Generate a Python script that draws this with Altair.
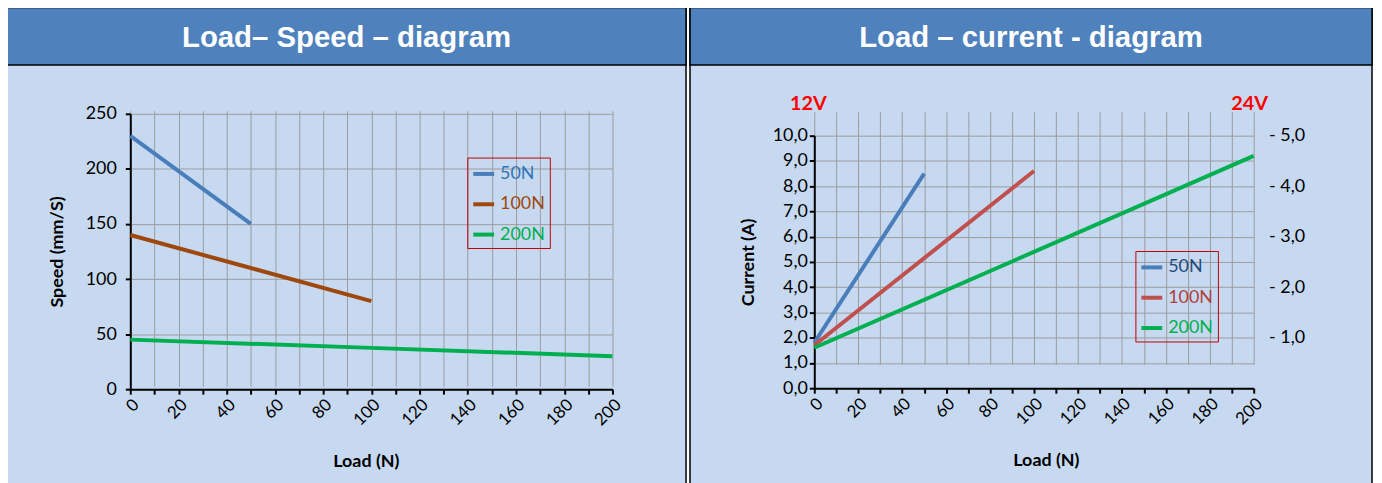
import altair as alt
import pandas as pd

# ---------------- data ----------------
series_names = ["50N", "100N", "200N"]

# Load - Speed diagram
speed_50_load = [0, 50]
speed_50 = [230, 150]
speed_100_load = [0, 50, 100]
speed_100 = [140, 110, 80]
speed_200_load = [0, 100, 200]
speed_200 = [45, 37.5, 30]

# Load - current diagram
current_50_load = [0, 50]
current_50 = [1.8, 8.5]
current_100_load = [0, 100]
current_100 = [1.7, 8.6]
current_200_load = [0, 200]
current_200 = [1.6, 9.2]

load_ticks = list(range(0, 201, 10))
speed_ticks = [0, 50, 100, 150, 200, 250]
current_ticks = list(range(0, 11))
current_24v_ticks = [1, 2, 3, 4, 5]

left_title = "Load\u2013 Speed \u2013 diagram"
right_title = "Load \u2013 current - diagram"

speed_colors = ["#4A7EBB", "#9E480E", "#00B050"]
speed_label_colors = ["#2E75B6", "#9E480E", "#00B050"]
current_colors = ["#4A7EBB", "#C0504D", "#00B050"]
current_label_colors = ["#1F497D", "#B0413E", "#00B050"]


def frame(name, loads, values):
    return pd.DataFrame({"series": name, "load": loads, "value": values})


speed_df = pd.concat([
    frame("50N", speed_50_load, speed_50),
    frame("100N", speed_100_load, speed_100),
    frame("200N", speed_200_load, speed_200),
])
current_df = pd.concat([
    frame("50N", current_50_load, current_50),
    frame("100N", current_100_load, current_100),
    frame("200N", current_200_load, current_200),
])

# ---------------- styling ----------------
W1, W2, H = 683, 686, 488
BG = "#C6D9F1"
BAR = "#4F81BD"
FONT = "Lato"

axis_common = dict(
    domainColor="black", domainWidth=2, tickColor="black", tickWidth=2, tickSize=5,
    gridColor="#9C9C9C", gridWidth=1, labelFont=FONT, labelColor="black",
    titleFont=FONT, titleFontWeight="bold", titleFontSize=18, titleColor="black",
)


def label_color_expr(colors):
    return alt.ExprRef(
        f"datum.value == '{series_names[0]}' ? '{colors[0]}' : "
        f"datum.value == '{series_names[1]}' ? '{colors[1]}' : '{colors[2]}'"
    )


def legend(x, y, colors):
    return alt.Legend(
        orient="none", legendX=x, legendY=y, title=None, strokeColor="#C00000",
        padding=4, symbolType="stroke", symbolStrokeWidth=4, symbolSize=441,
        labelFont=FONT, labelFontSize=18, rowPadding=8.5, labelOffset=4,
        labelColor=label_color_expr(colors),
    )


def header(title, width):
    d = alt.Data(values=[{"t": title}])
    bar = alt.Chart(d).mark_rect(fill=BAR, stroke="black", strokeWidth=1.5).encode(
        x=alt.value(0), x2=alt.value(width), y=alt.value(0), y2=alt.value(58)
    )
    txt = alt.Chart(d).mark_text(
        font="Liberation Sans", fontSize=29.5, fontWeight="bold", color="white",
        align="center", baseline="middle"
    ).encode(x=alt.value(width / 2), y=alt.value(31), text="t:N")
    return bar, txt


def x_axis(offset, title_x):
    return alt.Axis(
        values=load_ticks, labelExpr="datum.value % 20 == 0 ? datum.label : ''",
        labelAngle=-45, labelFontSize=17, labelOverlap=False, labelFlush=False,
        offset=offset, title="Load (N)", titleBaseline="middle", titleY=73,
        titleX=title_x, **axis_common,
    )


# ---------------- left panel ----------------
l_bar, l_txt = header(left_title, W1)
left_lines = alt.Chart(speed_df).mark_line(strokeWidth=4).encode(
    x=alt.X("load:Q", scale=alt.Scale(domain=[0, 200], range=[124, 609], nice=False, zero=False),
            axis=x_axis(384 - H, 361)),
    y=alt.Y("value:Q", scale=alt.Scale(domain=[0, 250], range=[384, 107], nice=False),
            axis=alt.Axis(values=speed_ticks, offset=-124, labelFontSize=18, labelPadding=9,
                          title="Speed (mm/S)", titleBaseline="middle", titleX=-73,
                          **axis_common)),
    color=alt.Color("series:N", scale=alt.Scale(domain=series_names, range=speed_colors),
                    legend=legend(463, 151, speed_label_colors)),
)
left = alt.layer(l_bar, l_txt, left_lines).properties(width=W1, height=H)

# ---------------- right panel ----------------
r_bar, r_txt = header(right_title, W2)
right_lines = alt.Chart(current_df).mark_line(strokeWidth=4).encode(
    x=alt.X("load:Q", scale=alt.Scale(domain=[0, 200], range=[125, 567], nice=False, zero=False),
            axis=x_axis(383 - H, 358)),
    y=alt.Y("value:Q", scale=alt.Scale(domain=[0, 10], range=[383, 129], nice=False),
            axis=alt.Axis(values=current_ticks, offset=-125, labelFontSize=18, labelPadding=2,
                          labelExpr="replace(format(datum.value, '.1f'), '.', ',')",
                          title="Current (A)", titleBaseline="middle", titleX=-66,
                          **axis_common)),
    color=alt.Color("series:N", scale=alt.Scale(domain=series_names, range=current_colors),
                    legend=legend(448, 245, current_label_colors)),
)
right_axis = alt.Chart(pd.DataFrame({"v24": current_24v_ticks})).mark_point(opacity=0).encode(
    y=alt.Y("v24:Q", scale=alt.Scale(domain=[0, 5], range=[383, 129], nice=False),
            axis=alt.Axis(orient="right", values=current_24v_ticks, domain=False, ticks=False,
                          grid=False, offset=-110, labelPadding=6, labelFont=FONT,
                          labelFontSize=18, labelColor="black", labelAlign="left",
                          labelExpr="'- ' + replace(format(datum.value, '.1f'), '.', ',')",
                          title=None)),
)
volt = alt.Data(values=[{"v": "12V", "px": 119}, {"v": "24V", "px": 563}])
volt_text = alt.Chart(volt).mark_text(
    font=FONT, fontSize=20, fontWeight="bold", color="#FF0000", align="center", baseline="middle"
).encode(x=alt.X("px:Q", scale=None), y=alt.value(97), text="v:N")

right = alt.layer(r_bar, r_txt, right_lines, right_axis, volt_text).resolve_scale(
    y="independent").properties(width=W2, height=H)

chart = alt.hconcat(left, right, spacing=0).resolve_scale(color="independent").resolve_legend(
    color="independent").properties(
    padding={"left": -3, "top": -4, "right": 0, "bottom": 0}, background="white").configure_view(
    fill=BG, stroke="black", strokeWidth=1.5)

chart.save("out.html", embed_options={"renderer": "svg", "actions": False})
